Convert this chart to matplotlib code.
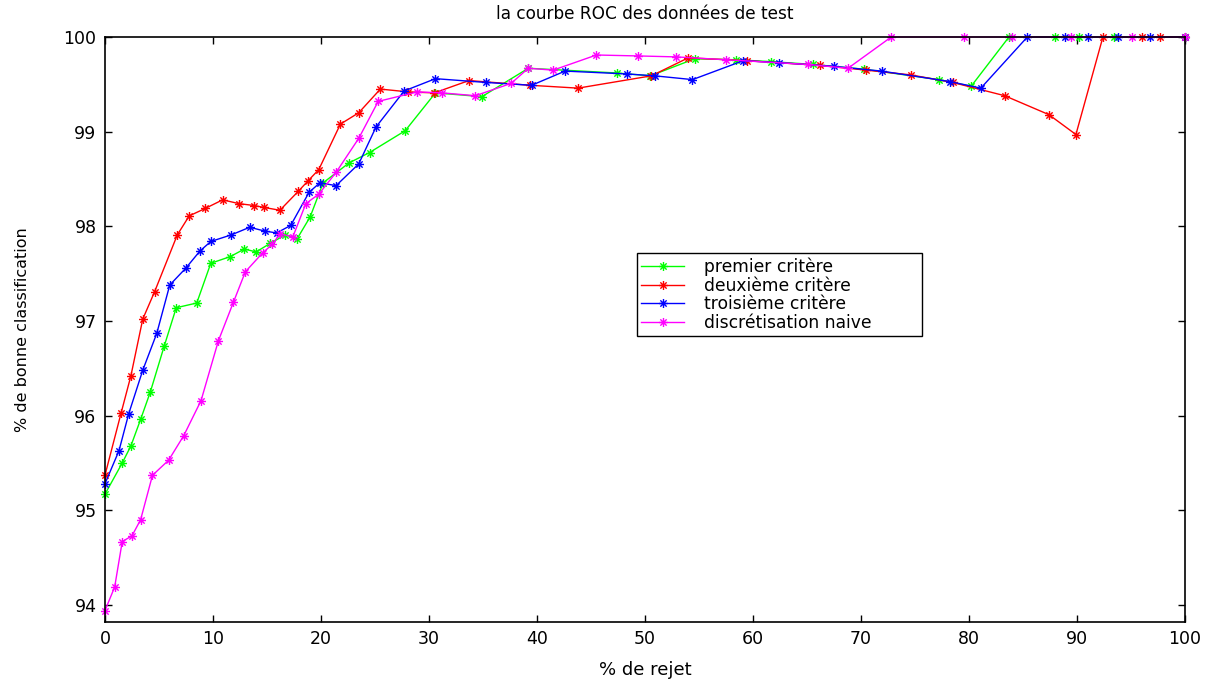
import numpy as np
import matplotlib
matplotlib.use("Agg")
import matplotlib.pyplot as plt
from matplotlib.path import Path

# données
# ==========================
x_premier = [0, 1.6, 2.4, 3.3, 4.2, 5.5, 6.6, 8.5, 9.8, 11.6, 12.9, 14.0, 15.3, 16.7,
             17.8, 19.0, 20.2, 22.6, 24.5, 27.8, 30.6, 34.9, 39.2, 47.4, 50.5, 54.6,
             58.4, 61.7, 65.6, 70.3, 77.2, 80.2, 83.7, 88.0, 90.2, 93.4, 100]
y_premier = [95.17, 95.50, 95.68, 95.96, 96.25, 96.74, 97.14, 97.19, 97.61, 97.68, 97.76,
             97.73, 97.82, 97.91, 97.87, 98.10, 98.46, 98.67, 98.78, 99.01, 99.41, 99.37,
             99.67, 99.62, 99.59, 99.77, 99.76, 99.74, 99.71, 99.66, 99.55, 99.48, 100,
             100, 100, 100, 100]

x_deuxieme = [0, 1.5, 2.4, 3.5, 4.6, 6.7, 7.8, 9.3, 10.9, 12.4, 13.8, 14.7, 16.2, 17.9,
              18.8, 19.8, 21.8, 23.5, 25.5, 28.1, 30.5, 33.7, 39.4, 43.8, 50.6, 54.0,
              59.4, 66.2, 70.5, 74.6, 78.5, 83.3, 87.4, 89.9, 92.4, 96.0, 97.7, 100]
y_deuxieme = [95.37, 96.03, 96.42, 97.02, 97.31, 97.91, 98.11, 98.19, 98.28, 98.24, 98.22,
              98.20, 98.17, 98.37, 98.48, 98.60, 99.08, 99.20, 99.45, 99.42, 99.41, 99.54,
              99.49, 99.46, 99.59, 99.78, 99.75, 99.70, 99.65, 99.60, 99.52, 99.38, 99.18,
              98.97, 100, 100, 100, 100]

x_troisieme = [0, 1.3, 2.2, 3.5, 4.8, 6.0, 7.5, 8.8, 9.8, 11.7, 13.4, 14.8, 15.9, 17.2,
               18.9, 19.9, 21.4, 23.5, 25.1, 27.7, 30.6, 35.3, 39.5, 42.6, 48.3, 50.9,
               54.4, 59.1, 62.4, 67.5, 71.9, 78.2, 81.1, 85.4, 88.9, 91.0, 93.8, 96.8, 100]
y_troisieme = [95.28, 95.63, 96.02, 96.48, 96.87, 97.38, 97.56, 97.74, 97.84, 97.91, 97.99,
               97.95, 97.93, 98.01, 98.36, 98.46, 98.43, 98.66, 99.05, 99.43, 99.56, 99.52,
               99.49, 99.64, 99.61, 99.59, 99.55, 99.75, 99.73, 99.69, 99.64, 99.53, 99.46,
               100, 100, 100, 100, 100, 100]

x_naive = [0, 0.9, 1.6, 2.5, 3.3, 4.4, 5.9, 7.3, 8.9, 10.5, 11.9, 13.0, 14.6, 15.5, 16.2,
           17.4, 18.6, 19.8, 21.4, 23.5, 25.3, 28.9, 31.2, 34.3, 37.6, 39.2, 41.5, 45.5,
           49.4, 52.9, 57.5, 65.1, 68.8, 72.8, 79.5, 84.0, 89.4, 95.1, 100]
y_naive = [93.94, 94.19, 94.67, 94.73, 94.90, 95.37, 95.53, 95.79, 96.16, 96.79, 97.20,
           97.52, 97.72, 97.81, 97.92, 97.89, 98.24, 98.34, 98.57, 98.93, 99.32, 99.42,
           99.41, 99.38, 99.51, 99.67, 99.65, 99.81, 99.80, 99.79, 99.76, 99.71, 99.67,
           100, 100, 100, 100, 100, 100]

labels = ['premier critère', 'deuxième critère', 'troisième critère', 'discrétisation naive']
couleurs = ['#00ff00', '#ff0000', '#0000ff', '#ff00ff']

# marqueur "*" façon matlab (+ et x superposés)
d = 0.7
etoile = Path([(-1, 0), (1, 0), (0, -1), (0, 1), (-d, -d), (d, d), (-d, d), (d, -d)],
              [Path.MOVETO, Path.LINETO] * 4)

plt.rcParams['font.family'] = ['DejaVu Sans']

fig = plt.figure(figsize=(12.05, 6.83), dpi=100)
ax = fig.add_axes([0.0871, 0.0893, 0.8963, 0.8565])

series = [(x_premier, y_premier), (x_deuxieme, y_deuxieme),
          (x_troisieme, y_troisieme), (x_naive, y_naive)]
for (xs, ys), lab, c in zip(series, labels, couleurs):
    ax.plot(xs, ys, color=c, lw=1.0, marker=etoile, ms=6.5, mew=1.0,
            mfc='none', mec=c, label=lab, clip_on=False)

ax.set_xlim(0, 100)
ax.set_ylim(93.82, 100)
ax.set_xticks(np.arange(0, 101, 10))
ax.set_yticks(np.arange(94, 101, 1))
ax.tick_params(direction='in', length=5, width=1, top=True, right=True,
               labelsize=12.5, pad=6)
for s in ax.spines.values():
    s.set_linewidth(1.2)

ax.set_title('la courbe ROC des données de test', fontsize=12.2, pad=13)
ax.set_xlabel('% de rejet', fontsize=13, labelpad=9)
ax.set_ylabel('% de bonne classification', fontsize=11.5, labelpad=24)

leg = ax.legend(loc='upper left', bbox_to_anchor=(0.4926, 0.495, 0.2639, 0.136),
                mode='expand', borderaxespad=0, fontsize=12.3, labelspacing=0.05,
                handlelength=2.5, handletextpad=1.2, borderpad=0.25,
                fancybox=False, framealpha=1, edgecolor='black')
leg.get_frame().set_linewidth(1.0)

plt.savefig('out.png', dpi=100)
